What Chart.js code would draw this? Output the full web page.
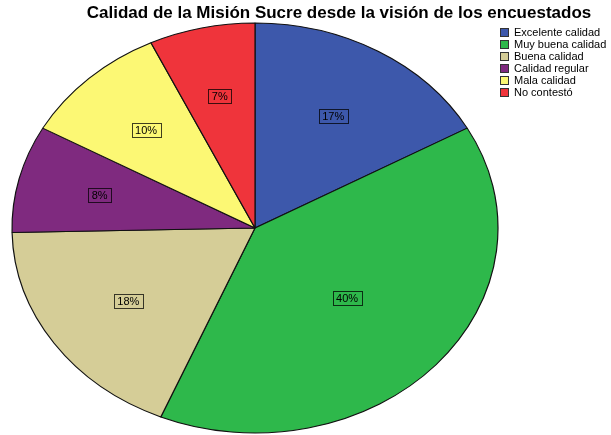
<!DOCTYPE html>
<html>
<head>
<meta charset="utf-8">
<script src="https://cdn.jsdelivr.net/npm/chart.js@4.4.1/dist/chart.umd.min.js"></script>
<style>
  html, body { margin: 0; padding: 0; background: #fff; }
  #wrap { width: 611px; height: 435px; }
</style>
</head>
<body>
<div id="wrap"><canvas id="myChart" width="611" height="435"></canvas></div>
<script>
const categories = [
  "Excelente calidad",
  "Muy buena calidad",
  "Buena calidad",
  "Calidad regular",
  "Mala calidad",
  "No contestó",
];
// respondent counts
const counts = [12, 28, 13, 6, 7, 5];
// percent labels as printed on the slices
const percentLabels = ["17%", "40%", "18%", "8%", "10%", "7%"];
const sliceColors = ["#3d58ab", "#2eb84b", "#d5cd97", "#7f2a7f", "#fcf874", "#ef343b"];

// target ellipse of the pie (the original is stretched horizontally)
const CX = 255, CY = 228, RX = 243, RY = 205;

const ellipsePie = {
  id: "ellipsePie",
  beforeDatasetsDraw(chart) {
    const ctx = chart.ctx;
    const arc = chart.getDatasetMeta(0).data[0];
    ctx.save();
    ctx.translate(CX, CY);
    ctx.scale(RX / arc.outerRadius, RY / arc.outerRadius);
    ctx.translate(-arc.x, -arc.y);
  },
  afterDatasetsDraw(chart) {
    const ctx = chart.ctx;
    ctx.restore();

    // percent labels at each slice centroid
    const meta = chart.getDatasetMeta(0);
    ctx.save();
    ctx.font = "11px 'Liberation Sans', Arial, sans-serif";
    ctx.textAlign = "center";
    ctx.textBaseline = "middle";
    meta.data.forEach((arc, i) => {
      const theta = arc.endAngle - arc.startAngle;
      const mid = (arc.startAngle + arc.endAngle) / 2;
      const d = (4 * Math.sin(theta / 2)) / (3 * theta);
      const x = CX + RX * d * Math.cos(mid);
      const y = CY + RY * d * Math.sin(mid);
      const txt = percentLabels[i];
      const w = Math.round(ctx.measureText(txt).width + 7);
      const h = 14;
      ctx.strokeStyle = "rgba(0,0,0,0.75)";
      ctx.lineWidth = 1;
      ctx.strokeRect(Math.round(x - w / 2) + 0.5, Math.round(y - h / 2) + 0.5, w, h);
      ctx.fillStyle = "#000";
      ctx.fillText(txt, x, y + 1);
    });
    ctx.restore();
  },
};

const sideLegend = {
  id: "sideLegend",
  afterDraw(chart) {
    const ctx = chart.ctx;
    const colors = chart.data.datasets[0].backgroundColor;
    ctx.save();
    ctx.font = "11px 'Liberation Sans', Arial, sans-serif";
    ctx.textBaseline = "middle";
    chart.data.labels.forEach((label, i) => {
      const y = 28 + i * 12;
      ctx.fillStyle = colors[i];
      ctx.fillRect(500, y, 8, 8);
      ctx.strokeStyle = "#333";
      ctx.lineWidth = 1;
      ctx.strokeRect(500.5, y + 0.5, 8, 8);
      ctx.fillStyle = "#000";
      ctx.fillText(label, 514, y + 4.5);
    });
    ctx.restore();
  },
};

const ctx = document.getElementById("myChart");

new Chart(ctx, {
  type: "pie",
  data: {
    labels: categories,
    datasets: [
      {
        data: counts,
        backgroundColor: sliceColors,
        borderColor: "#111",
        borderWidth: 1,
      },
    ],
  },
  options: {
    responsive: false,
    animation: false,
    layout: {
      padding: { left: 67 },
    },
    plugins: {
      legend: { display: false },
      tooltip: { enabled: false },
      title: {
        display: true,
        text: "Calidad de la Misión Sucre desde la visión de los encuestados",
        color: "#000",
        font: { family: "'Liberation Sans', Arial, sans-serif", size: 17, weight: "bold" },
        padding: { top: 3, bottom: 3 },
      },
    },
  },
  plugins: [ellipsePie, sideLegend],
});
</script>
</body>
</html>
